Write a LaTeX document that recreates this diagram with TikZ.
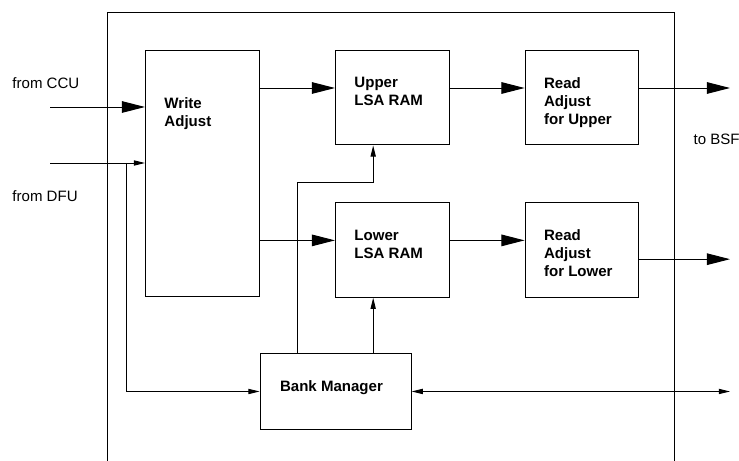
\documentclass[tikz,border=0pt]{standalone}
\usepackage{fontspec}
\setmainfont{Liberation Sans}
\usetikzlibrary{arrows.meta,positioning}

\begin{document}
\begin{tikzpicture}[
    node distance=1.425cm and 1.88cm,
    font=\fontsize{10.7}{12.8}\selectfont,
    line width=0.7pt,
    block/.style={draw, rectangle, minimum width=2.84cm, minimum height=2.36cm, inner sep=0pt},
    caption/.style={font=\fontsize{10.7}{12.8}\selectfont\bfseries, align=left, inner sep=0pt},
    io/.style={inner sep=0pt, anchor=base west},
    bigarrow/.style={-{Triangle[length=0.58cm, width=0.29cm]}},
    smallarrow/.style={-{Triangle[length=0.28cm, width=0.13cm]}},
    biarrow/.style={{Triangle[length=0.28cm, width=0.13cm]}-{Triangle[length=0.28cm, width=0.13cm]}}
]
    \useasboundingbox (0,0) rectangle (18.475,-11.525);

    % frame, open at the bottom
    \draw (2.675,-11.525) -- (2.675,-0.3) -- (16.85,-0.3) -- (16.85,-11.525);

    % blocks
    \node[block, minimum height=6.15cm, anchor=north west] (wadj) at (3.625,-1.25) {};
    \node[block, right=1.885cm of wadj.north east, anchor=north west] (upper) {};
    \node[block, right=1.875cm of upper] (rup) {};
    \node[block, below=of upper] (lower) {};
    \node[block, below=of rup] (rlo) {};
    \node[block, minimum width=3.775cm, minimum height=1.9cm, below=1.4cm of wadj.south east, anchor=north west] (bm) {};

    % block texts
    \node[caption, below right=1.17cm and 0.475cm of wadj.north west] (wadj-t) {Write\\Adjust};
    \node[caption, below right=0.67cm and 0.475cm of upper.north west] (upper-t) {Upper\\LSA RAM};
    \node[caption, below right=0.67cm and 0.475cm of rup.north west] (rup-t) {Read\\Adjust\\for Upper};
    \node[caption, below right=0.67cm and 0.475cm of lower.north west] (lower-t) {Lower\\LSA RAM};
    \node[caption, below right=0.67cm and 0.475cm of rlo.north west] (rlo-t) {Read\\Adjust\\for Lower};
    \node[caption, below right=0.68cm and 0.5cm of bm.north west] (bm-t) {Bank Manager};

    % outside labels
    \node[io] (ccu-l) at (0.3,-2.2175) {from CCU};
    \node[io] (dfu-l) at (0.3,-5.03) {from DFU};
    \node[io] (bsf-l) at (17.33,-3.61) {to BSF};

    \coordinate (ccu) at (1.25,-2.675);
    \coordinate (dfu) at (1.25,-4.075);
    \coordinate (tap) at (3.15,-4.075);
    \coordinate (out) at (18.25,0);
    \coordinate (lin) at ([yshift=-0.95cm]lower.north west);
    \coordinate (uo) at ([yshift=-0.95cm]rup.north east);
    \coordinate (lo) at ([yshift=-1.42cm]rlo.north east);
    \coordinate (bml) at ([xshift=-0.94cm]bm.north);
    \coordinate (bmr) at ([xshift=0.94cm]bm.north);

    % inputs
    \draw[bigarrow] (ccu) -- (ccu -| wadj.west);
    \draw[smallarrow] (dfu) -- (dfu -| wadj.west);
    \draw[smallarrow] (tap) |- (bm.west);

    % data path
    \draw[bigarrow] ([yshift=-0.95cm]wadj.north east) -- ([yshift=-0.95cm]upper.north west);
    \draw[bigarrow] (lin -| wadj.east) -- (lin);
    \draw[bigarrow] ([yshift=-0.95cm]upper.north east) -- ([yshift=-0.95cm]rup.north west);
    \draw[bigarrow] ([yshift=-0.95cm]lower.north east) -- ([yshift=-0.95cm]rlo.north west);
    \draw[bigarrow] (uo) -- (uo -| out);
    \draw[bigarrow] (lo) -- (lo -| out);

    % bank manager
    \draw[biarrow] (bm.east) -- (bm.east -| out);
    \draw[smallarrow] (bmr) -- (bmr |- lower.south);
    \draw[smallarrow] (bml) -- ++(0,4.25) -| (bmr |- upper.south);
\end{tikzpicture}
\end{document}
